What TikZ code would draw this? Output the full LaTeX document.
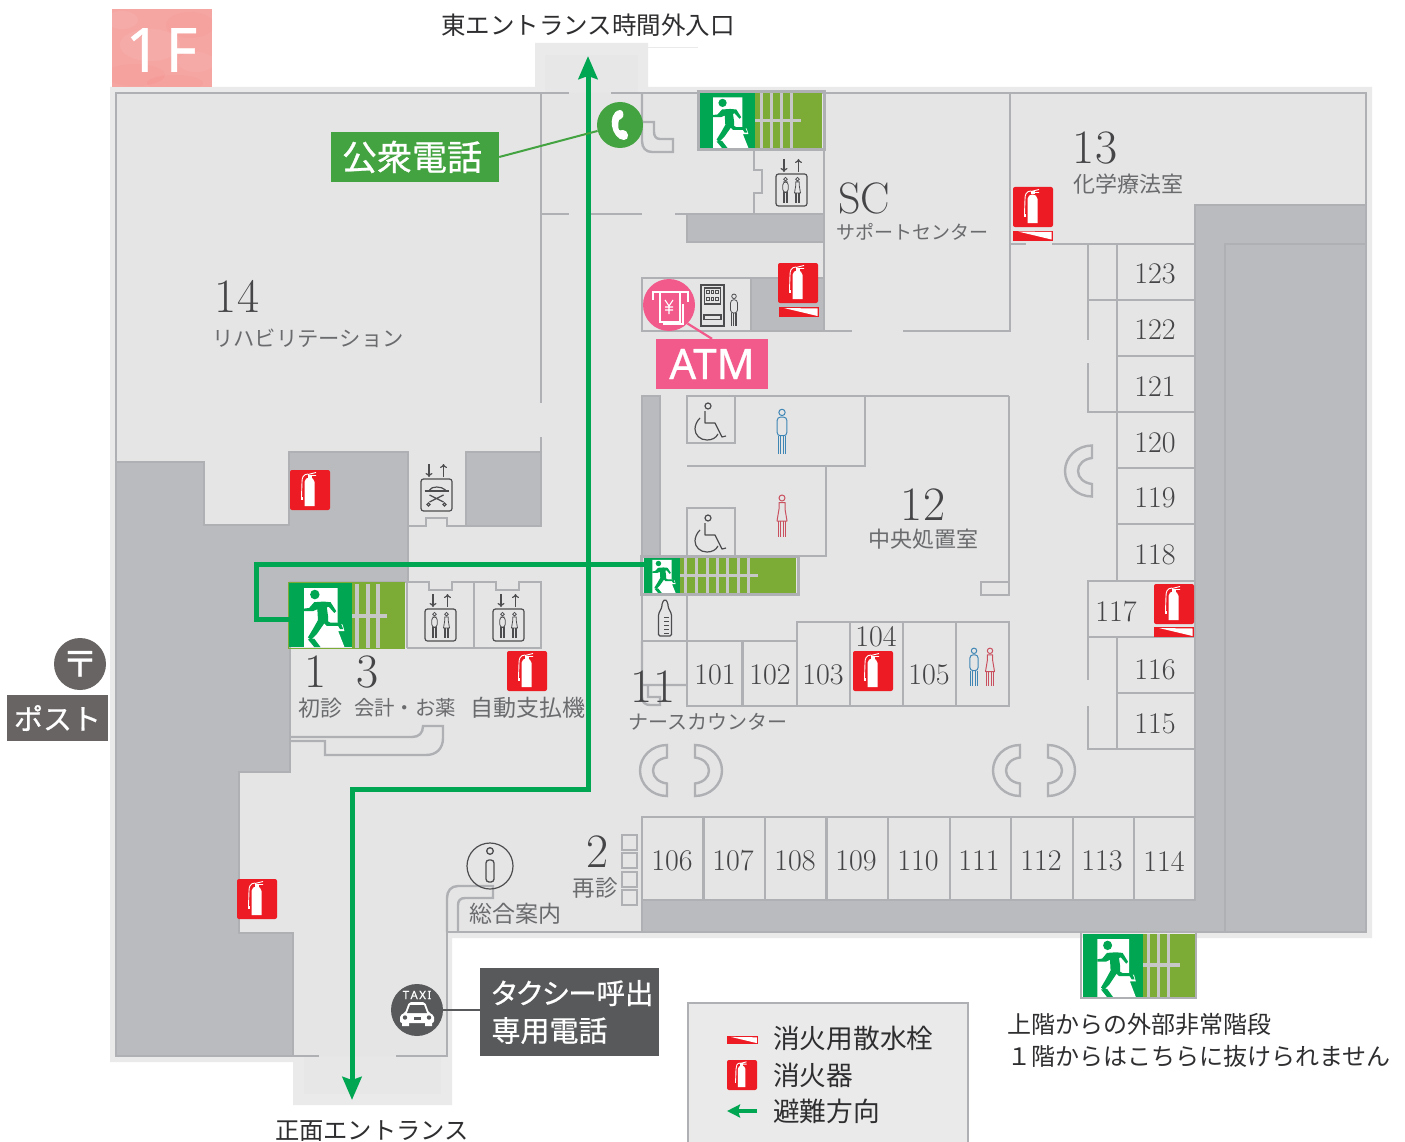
\documentclass[tikz,border=0pt]{standalone}
\usepackage{fontspec}
\newfontfamily\cjk{Noto Sans CJK JP}
\newfontfamily\cjkp[RawFeature=+palt]{Noto Sans CJK JP}
\newfontfamily\cjkm[FakeBold=0.7]{Noto Sans CJK JP}
\newfontfamily\cjkmp[FakeBold=0.7,RawFeature=+palt]{Noto Sans CJK JP}
\newfontfamily\nsans[FakeBold=0.7]{Noto Sans}
\usetikzlibrary{arrows.meta}
\newcommand\fsz[1]{\fontsize{#1}{#1}\selectfont}
\definecolor{halo}{HTML}{EAEAEA}
\definecolor{haloin}{HTML}{E7E7E8}
\definecolor{floorc}{HTML}{E5E5E6}
\definecolor{wallc}{HTML}{AEB0B3}
\definecolor{darkc}{HTML}{BABBBE}
\definecolor{stripec}{HTML}{C6C7C6}
\definecolor{firered}{HTML}{ED1C24}
\definecolor{exitgreen}{HTML}{00A651}
\definecolor{stairg}{HTML}{7CAC36}
\definecolor{phoneg}{HTML}{43A340}
\definecolor{pinkc}{HTML}{F25A8C}
\definecolor{floorpink}{HTML}{F5A6A3}
\definecolor{greybox}{HTML}{58595B}
\definecolor{postc}{HTML}{686463}
\definecolor{iconc}{HTML}{4D4D4F}
\definecolor{toiletb}{HTML}{3F86B5}
\definecolor{toiletr}{HTML}{C9505E}
\definecolor{numc}{HTML}{454547}
\definecolor{namec}{HTML}{6A6B6D}
\definecolor{labc}{HTML}{2E2E30}
\tikzset{
  wall/.style={draw=wallc,line width=2.4pt,line join=miter},
  darkarea/.style={fill=darkc,draw=wallc,line width=2.4pt},
  route/.style={draw=exitgreen,line width=5pt},
  roomno/.style={text=numc,inner sep=0pt,font=\fsz{30},yshift=-1pt},
  bignum/.style={text=numc,inner sep=0pt,font=\fsz{48}},
  roomname/.style={text=namec,inner sep=0pt},
  darktext/.style={text=labc,inner sep=0pt},
  whitetext/.style={text=white,inner sep=0pt},
  iconline/.style={draw=iconc,line width=1.2pt},
  blueline/.style={draw=toiletb,line width=1pt},
  redline/.style={draw=toiletr,line width=1pt},
  grayline/.style={draw=iconc,line width=.8pt},
  pics/fireext/.style={code={
    \fill[firered,rounded corners=2pt] (-20,-20) rectangle (20,20);
    \fill[white] (-5.5,-8) .. controls (-5.5,-11) and (-3,-12.5) .. (-0.5,-12.5) .. controls (2,-12.5) and (4.5,-11) .. (4.5,-8) -- (4.5,16) -- (-5.5,16) -- cycle;
    \fill[white] (-2.5,-15.5) rectangle (1.5,-12.5);
    \draw[white,line width=.9pt] (-2,-15.5) -- (6,-17.5) (1,-14.5) -- (6,-14.5);
    \draw[white,line width=.9pt] (-2,-16) .. controls (-7,-16) and (-8,-12) .. (-8,-8) -- (-8.5,7);
    \fill[white] (-9.5,7) rectangle (-7.5,10);
  }},
  pics/hydrant/.style={code={
    \fill[firered] (-20,-5) rectangle (20,5);
    \fill[white] (-15,-4) -- (18.5,-3.5) -- (18.5,4) -- cycle;
  }},
  pics/manicon/.style={code={
    \draw[#1] (0,-18) circle[radius=3];
    \draw[#1,rounded corners=3pt] (-4.5,4) -- (-4.5,-13.5) -- (4.5,-13.5) -- (4.5,4) -- cycle;
    \draw[#1] (-3.7,4) -- (-3.7,21) (-1.2,4) -- (-1.2,21) (1.2,4) -- (1.2,21) (3.7,4) -- (3.7,21);
  }},
  pics/womanicon/.style={code={
    \draw[#1] (0,-18) circle[radius=3];
    \draw[#1,line join=round] (-3,-13.5) -- (3,-13.5) -- (3,-7) -- (5,5) -- (-5,5) -- (-3,-7) -- cycle;
    \draw[#1] (-3.7,5) -- (-3.7,21) (-1.2,5) -- (-1.2,21) (1.2,5) -- (1.2,21) (3.7,5) -- (3.7,21);
  }},
  pics/liftframe/.style={code={
    \draw[iconline,rounded corners=2.5pt] (-15.5,-16) rectangle (15.5,16);
    \draw[iconline,-{To[length=4pt,width=7pt]}] (-7.5,-31) -- (-7.5,-18);
    \draw[iconline,-{To[length=4pt,width=7pt]}] (7,-18) -- (7,-31);
  }},
  pics/lifticon/.style={code={
    \pic {liftframe};
    \pic[scale=.6] at (-6,0) {manicon=grayline};
    \pic[scale=.6] at (6,0) {womanicon=grayline};
  }},
  pics/stretcher/.style={code={
    \pic {liftframe};
    \draw[iconline,line width=1.7pt,rounded corners=1pt] (-12,-4) -- (12,-4);
    \draw[iconline] (-7,-5) .. controls (-5,-9) and (5,-9) .. (9,-5);
    \draw[iconline] (-7,0) -- (7,7) (7,0) -- (-7,7);
    \draw[iconline] (-8,9.5) circle[radius=1.6] (8,9.5) circle[radius=1.6];
  }},
  pics/wheelchair/.style={code={
    \draw[iconline] (21,10) circle[radius=3];
    \draw[iconline,line join=round] (18,15) -- (18,27) -- (28,27) -- (35,41) -- (39,40);
    \draw[iconline] (13,22) .. controls (10,25) and (8,29) .. (8,33) .. controls (8,39) and (13,44) .. (20,44) .. controls (25,44) and (29,42) .. (31,38);
  }},
  pics/cshape/.style={code={
    \draw[wall] (0,-25.5) .. controls (-15,-25.5) and (-27,-14) .. (-27,0) .. controls (-27,14) and (-15,25.5) .. (0,25.5) -- (0,13) .. controls (-8,12) and (-14,7) .. (-14,0) .. controls (-14,-7) and (-8,-12) .. (0,-13) -- cycle;
  }},
}
\newcommand\exitsign[4]{%
  \begin{scope}[shift={(#1,#2)},xscale=#3/100,yscale=#4/100]
    \fill[exitgreen] (0,0) rectangle (100,100);
    \fill[white] (24,8) -- (77,8) -- (77,62) -- (85,65) -- (88,75) -- (78,75) -- (88,100) -- (24,100) -- cycle;
    \fill[exitgreen] (41,18) circle[radius=7.5];
    \fill[exitgreen,line join=round] (24,40) -- (32,39) -- (40,30) -- (55,29) -- (66,30) -- (75,44) -- (72,47) -- (63,37) -- (60,38) -- (62,52) -- (62,60) -- (66,62) -- (82,62) -- (86,72) -- (81,72) -- (78,67) -- (60,67) -- (56,63) -- (44,80) -- (35,89) -- (30,85) -- (38,72) -- (46,58) -- (45,41) -- (38,44) -- (24,44) -- cycle;
    \fill[exitgreen] (30,88) -- (40,87) -- (50,100) -- (40,100) -- cycle;
  \end{scope}%
}
\begin{document}
\begin{tikzpicture}[x=1pt,y=-1pt]
\useasboundingbox (0,0) rectangle (1405,1142);
\fill[white] (0,0) rectangle (1405,1142);
% halo and floor
\fill[halo] (110,87) -- (535,87) -- (535,43) -- (648,43) -- (648,87) -- (1372,87) -- (1372,938) -- (452,938) -- (452,1105) -- (293,1105) -- (293,1062) -- (110,1062) -- cycle;
\fill[haloin] (545,55) rectangle (638,93);
\fill[haloin] (304,1056) rectangle (441,1094);
\draw[draw=halo,line width=1pt] (648,47.5) -- (698,47.5);
\fill[floorc] (116,93) -- (1366,93) -- (1366,932) -- (447,932) -- (447,1056) -- (116,1056) -- cycle;
% dark areas
\path[darkarea] (116,462) -- (204,462) -- (204,525) -- (289,525) -- (289,452) -- (408,452) -- (408,582) -- (290,582) -- (290,772) -- (239,772) -- (239,933) -- (293,933) -- (293,1056) -- (116,1056) -- cycle;
\path[darkarea] (466,452) rectangle (541,526);
\path[darkarea] (642,900) -- (1195,900) -- (1195,205) -- (1366,205) -- (1366,932) -- (642,932) -- cycle;
\draw[wall] (1225,932) -- (1225,244) -- (1366,244);
\path[darkarea] (687,214) rectangle (824,242);
\path[darkarea] (751,278) rectangle (824,331);
\path[darkarea] (642,396) rectangle (660,556);
% outer walls
\draw[wall] (541,93) -- (116,93) -- (116,1056) (293,1056) -- (319,1056) (396,1056) -- (447,1056) -- (447,932) -- (642,932);
\draw[wall] (541,93) -- (569,93) (611,93) -- (1366,93) -- (1366,932);
\draw[wall] (541,93) -- (541,403) (541,437) -- (541,452) -- (466,452);
\draw[wall] (541,214) -- (569,214) (589,214) -- (642,214) (675,214) -- (824,214);
% phone niche
\draw[wall] (642,93) -- (642,141) .. controls (642,148) and (646,152) .. (652,152) -- (673,152) -- (673,139) -- (660,139) .. controls (656,139) and (654,136) .. (654,132) -- (654,122) -- (643,122);
% lift room upper
\draw[wall] (754,150) -- (754,170) -- (762,170) -- (762,193) -- (754,193) -- (754,214);
\draw[wall] (824,93) -- (824,331);
% ATM room
\draw[wall] (751,278) -- (642,278) -- (642,331) -- (852,331) (903,331) -- (1010,331) -- (1010,93);
\draw[wall] (1010,244) -- (1026,244) (1052,244) -- (1195,244);
% right corridors and rooms
\draw[wall] (1088,244) -- (1088,340) (1088,363) -- (1088,412) -- (1117,412) (1088,300) -- (1117,300);
\draw[wall] (1117,244) -- (1117,581);
\foreach \yy in {300,356,412,468,524} \draw[wall] (1117,\yy) -- (1195,\yy);
\draw[wall] (1195,581) -- (1088,581) -- (1088,637) -- (1195,637);
\draw[wall] (1088,637) -- (1088,680) (1088,706) -- (1088,749) -- (1195,749) (1117,637) -- (1117,749) (1117,693) -- (1195,693);
% central block
\draw[wall] (1009,396) -- (687,396) -- (687,443) -- (735,443) -- (735,396);
\draw[wall] (865,396) -- (865,466) -- (687,466);
\draw[wall] (826,466) -- (826,556) -- (798,556);
\draw[wall] (687,556) -- (687,508) -- (735,508) -- (735,556);
\draw[wall] (1009,396) -- (1009,595) -- (981,595) -- (981,582) -- (1009,582);
\draw[wall] (642,594) -- (642,641) (687,594) -- (687,706) -- (1009,706) -- (1009,622) -- (797,622) -- (797,706);
\draw[wall] (642,641) -- (797,641) (742.5,641) -- (742.5,706) (850,622) -- (850,706) (903,622) -- (903,706) (956,622) -- (956,706);
\draw[wall] (642,641) -- (642,697) .. controls (642,702) and (645,705) .. (650,705) -- (660,705) -- (660,697) -- (648,697) -- (648,686) (642,685) -- (687,685);
% lower rooms
\draw[wall] (642,932) -- (642,817) -- (1195,817);
\foreach \xx in {703.5,765,826.5,888,950,1011,1073,1134} \draw[wall] (\xx,817) -- (\xx,900);
\draw[wall] (642,900) -- (1195,900);
% reception
\draw[wall] (447,932) -- (447,898) .. controls (447,891) and (451,886) .. (458,886) -- (493,886) -- (493,898) -- (465,898) .. controls (460,898) and (458,901) .. (458,905) -- (458,932);
\foreach \yy in {835,853,872,890} \draw[wall] (622,\yy) rectangle (637,\yy+15);
% lifts left
\draw[wall] (408,452) -- (408,526) -- (426,526) -- (426,518) -- (447,518) -- (447,526) -- (466,526);
\draw[wall] (407,648) -- (407,582) -- (429,582) -- (429,590) -- (452,590) -- (452,582) -- (496,582) -- (496,590) -- (519,590) -- (519,582) -- (541,582) -- (541,648) -- (407,648) (474,582) -- (474,648);
% counter
\draw[wall] (290,650) -- (290,772);
\draw[wall] (290,737) -- (412,737) .. controls (419,737) and (423,733) .. (423,726) -- (443,726) -- (443,738) .. controls (443,749) and (436,755) .. (426,755) -- (325,755) -- (325,741) -- (290,741);
% curved benches
\pic at (667,770.5) {cshape};
\pic[xscale=-1] at (695,770.5) {cshape};
\pic at (1020,770.5) {cshape};
\pic[xscale=-1] at (1048,770.5) {cshape};
\pic at (1092,471) {cshape};
% exit blocks
\fill[stairg] (755,93) rectangle (822,148);
\draw[draw=stripec,line width=3pt] (761,93) -- (761,148) (771,93) -- (771,148) (781,93) -- (781,148) (791.5,93) -- (791.5,148) (755,121) -- (801,121);
\exitsign{700}{93}{55}{55}
\draw[wall,line width=3pt] (698,92) rectangle (824,150);
\fill[stairg] (352,582) rectangle (404,648);
\draw[draw=stripec,line width=3.3pt] (357,584) -- (357,648) (368,584) -- (368,648) (378,584) -- (378,648) (352,616) -- (387,616);
\exitsign{289}{583}{63}{64}
\draw[draw=stairg,line width=1.5pt] (288.5,582.5) rectangle (404,648.5);
\fill[stairg] (680,557) rectangle (796,593);
\draw[draw=stripec,line width=3pt] (685,557) -- (685,593) (696,557) -- (696,593) (707,557) -- (707,593) (717,557) -- (717,593) (727.5,557) -- (727.5,593) (738,557) -- (738,593) (748,557) -- (748,593) (680,575) -- (758,575);
\exitsign{643.5}{557}{36.5}{36}
\draw[wall,line width=3pt] (641,556) rectangle (798,594);
\fill[stairg] (1143,934) rectangle (1195,997);
\draw[draw=stripec,line width=3.3pt] (1148.5,934) -- (1148.5,997) (1158.5,934) -- (1158.5,997) (1168.5,934) -- (1168.5,997) (1143,965) -- (1180,965);
\exitsign{1083}{934}{60}{63}
\draw[wall,line width=2.5pt] (1081,933) -- (1081,998) -- (1196,998) -- (1196,933);
% fire equipment
\pic at (310,490) {fireext};
\pic at (798,283) {fireext};
\pic at (799,312) {hydrant};
\pic at (1033,207) {fireext};
\pic at (1033,235.5) {hydrant};
\pic at (1174,604) {fireext};
\pic at (1174,632) {hydrant};
\pic at (527,671) {fireext};
\pic at (873,671) {fireext};
\pic at (257,899) {fireext};
% service icons
\pic at (791.5,190) {lifticon};
\pic at (440.5,625) {lifticon};
\pic at (508.5,625) {lifticon};
\pic at (436.5,495) {stretcher};
\pic at (687,396) {wheelchair};
\pic at (687,508) {wheelchair};
\pic[scale=1.06] at (782,431.5) {manicon=blueline};
\pic[scale=1] at (782,516) {womanicon=redline};
\pic[scale=.9] at (974,667) {manicon=blueline};
\pic[scale=.9] at (990,667) {womanicon=redline};
% vending machine
\draw[iconline,line width=1.5pt] (701,285) rectangle (724,326);
\draw[iconline] (704.5,288) rectangle (720.5,304);
\foreach \xa in {708,712.5,717} \foreach \ya in {292,299} \draw[iconline,line width=.9pt] (\xa-1.3,\ya-1.5) rectangle (\xa+1.3,\ya+1.5);
\draw[iconline] (704,315) rectangle (721,319.5);
\pic[scale=.76] at (734,310) {manicon=grayline};
% bottle
\draw[iconline,rounded corners=1.5pt] (658.5,636) -- (658.5,614) -- (662,607) -- (662,603) -- (665,599) -- (668,603) -- (668,607) -- (671.5,614) -- (671.5,636) -- cycle;
\foreach \yb in {617,621,625,629,633} \draw[iconline,line width=.8pt] (664,\yb) -- (669,\yb);
% info
\node[draw=iconc,line width=1.2pt,circle,minimum size=46pt,inner sep=0pt] (info) at (490,866) {};
\draw[iconline,line width=1.3pt] (490,851) circle[radius=3.3];
\draw[iconline,line width=1.3pt,rounded corners=3pt] (486,860) rectangle (494,882);
% route
\coordinate (rE) at (588,56);
\coordinate (rT) at (588,789);
\coordinate (rB) at (352,789);
\coordinate (rS) at (352,1100);
\coordinate (rM) at (645,564);
\coordinate (rX) at (256,564);
\coordinate (rY) at (256,619);
\coordinate (rL) at (289,619);
\draw[route,{Stealth[length=23pt,width=19pt,inset=3pt]}-{Stealth[length=23pt,width=19pt,inset=3pt]}] (rE) -- (rT) -- (rB) -- (rS);
\draw[route] (rM) -- (rX) -- (rY) -- (rL);
% 1F
\fill[floorpink] (112,9) rectangle (212,87);
\begin{scope}
\clip (112,9) rectangle (212,87);
\fill[red!55!floorpink,fill opacity=.05] (135,75) ellipse[x radius=30,y radius=11];
\fill[red!55!floorpink,fill opacity=.05] (190,25) ellipse[x radius=24,y radius=13];
\fill[white,fill opacity=.07] (150,45) ellipse[x radius=30,y radius=16];
\fill[white,fill opacity=.06] (122,20) ellipse[x radius=16,y radius=9];
\fill[white,fill opacity=.05] (196,62) ellipse[x radius=18,y radius=10];
\fill[red!55!floorpink,fill opacity=.05] (175,83) ellipse[x radius=28,y radius=8];
\end{scope}
\node[inner sep=0pt,text=white,font=\nsans\fsz{61}] (floorlabel) at (161.5,50) {1\hspace{5pt}F};
% phone
\node[fill=phoneg,text=white,minimum width=168pt,minimum height=50pt,inner sep=0pt,font=\cjkm\fsz{35}] (phonelabel) at (415,157) {公衆電話\hspace*{6pt}};
\node[fill=phoneg,circle,minimum size=46pt,inner sep=0pt] (phone) at (620,125) {};
\draw[draw=phoneg,line width=2pt] (phonelabel.east) -- (phone);
\begin{scope}[shift={(620,125)}]
\fill[white] (0,-15) .. controls (-8,-14) and (-9,-4) .. (-8,1) .. controls (-7,8) and (-2,15) .. (4,15) .. controls (7,15) and (8,13) .. (8,10) .. controls (8,7) and (5,5) .. (3,5) .. controls (1,5) and (0,6) .. (-1,5) .. controls (-2,3) and (-2,-2) .. (-1,-5) .. controls (0,-6) and (2,-6) .. (3,-8) .. controls (4,-11) and (3,-15) .. (0,-15) -- cycle;
\end{scope}
% ATM
\node[fill=pinkc,text=white,minimum width=112pt,minimum height=50pt,inner sep=0pt,font=\nsans\fsz{42}] (atmlabel) at (712,364) {ATM};
\node[fill=pinkc,circle,minimum size=52pt,inner sep=0pt] (atm) at (669,305) {};
\draw[draw=pinkc,line width=2.2pt] (atm.south east) -- (atmlabel.north);
\begin{scope}[shift={(669,305)},line width=1.1pt,white]
\draw[white] (-16,-5) -- (-16,-13) -- (19,-13) -- (19,-3);
\draw[white] (-9,-13) -- (-9,17) -- (11,17) -- (11,-13);
\draw[white] (-6,19) -- (14,19) -- (14,-1);
\draw[white] (-4,-5) -- (0,1) -- (4,-5) (0,1) -- (0,9) (-4,2) -- (4,2) (-4,5) -- (4,5);
\end{scope}
% post
\node[fill=postc,circle,minimum size=52pt,inner sep=0pt,text=white,font=\cjkm\fsz{36}] (post) at (80,664) {〒};
\node[fill=postc,text=white,minimum width=101pt,minimum height=46pt,inner sep=0pt,font=\cjkm\fsz{29}] (postlabel) at (57.5,718) {ポスト};
% taxi
\node[fill=greybox,circle,minimum size=52pt,inner sep=0pt] (taxi) at (417,1010) {};
\node[fill=greybox,text=white,minimum width=179pt,minimum height=88pt,inner sep=0pt,text width=156pt,align=left] (taxilabel) at (569.5,1012) {\cjkmp\fsz{28.5}タクシー呼出\\[10pt]\cjkm\fsz{29}専用電話};
\draw[draw=greybox,line width=2pt] (taxi) -- (taxilabel.west |- taxi);
\node[whitetext,font=\nsans\fsz{11.5}] (taxitext) at (417,995) {T\hspace{1.4pt}A\hspace{1.4pt}X\hspace{1.4pt}I};
\begin{scope}[shift={(417,1015)}]
\fill[white,rounded corners=2pt] (-8,-13) -- (8,-13) -- (12,-2) -- (17,0) -- (17,8) -- (-17,8) -- (-17,0) -- (-12,-2) -- cycle;
\fill[greybox] (-7,-10) -- (7,-10) -- (10,-2) -- (-10,-2) -- cycle;
\fill[greybox] (-12,2.5) circle[radius=2.2] (12,2.5) circle[radius=2.2];
\fill[greybox] (-3.5,2) rectangle (3.5,4.5);
\fill[white] (-15,7) rectangle (-8,11) (8,7) rectangle (15,11);
\end{scope}
% texts
\node[darktext,font=\cjk\fsz{24.5}] (east) at (588,25) {東エントランス時間外入口};
\node[darktext,font=\cjk\fsz{24.3}] (front) at (372,1131) {正面エントランス};
\node[darktext,anchor=west,font=\cjk\fsz{24}] (note1) at (1007,1024) {上階からの外部非常階段};
\node[darktext,anchor=west,font=\cjk\fsz{24}] (note2) at (1007,1056) {１階からはこちらに抜けられません};
\node[bignum] (n14) at (237,296) {14};
\node[roomname,font=\cjk\fsz{21.3}] (t14) at (308,338) {リハビリテーション};
\node[bignum,font=\fsz{44}] (nsc) at (864,198) {SC};
\node[roomname,font=\cjk\fsz{19}] (tsc) at (912,232) {サポートセンター};
\node[bignum] (n13) at (1095,148) {13};
\node[roomname,font=\cjk\fsz{22}] (t13) at (1128,184) {化学療法室};
\node[bignum] (n12) at (923,505) {12};
\node[roomname,font=\cjk\fsz{22}] (t12) at (923,539) {中央処置室};
\node[bignum] (n1) at (316,672) {1};
\node[bignum] (n3) at (368,672) {3};
\node[roomname,font=\cjk\fsz{22}] (t1) at (320,708) {初診};
\node[roomname,font=\cjk\fsz{20.4}] (t3) at (405,708) {会計・お薬};
\node[roomname,font=\cjk\fsz{23}] (tpay) at (528,708) {自動支払機};
\node[bignum] (n11) at (653,687) {11};
\node[roomname,font=\cjk\fsz{20}] (t11) at (708,722) {ナースカウンター};
\node[bignum] (n2) at (598,852) {2};
\node[roomname,font=\cjk\fsz{22.5}] (t2) at (595,888) {再診};
\node[roomname,font=\cjk\fsz{23}] (tinfo) at (515,914) {総合案内};
\foreach \n/\x/\y in {101/715/674,102/770/674,103/823/674,104/876/636,105/929/674,
  106/672/860,107/733/860,108/795/860,109/856/860,110/918/860,111/979/860,112/1041/860,113/1102/860,114/1164/860,
  115/1155/723,116/1155/669,117/1116/611,118/1155/554,119/1155/497,120/1155/442,121/1155/386,122/1155/329,123/1155/273}
  \node[roomno] (room\n) at (\x,\y) {\n};
% legend
\draw[fill=halo,draw=wallc,line width=2.4pt] (688,1145) -- (688,1003) -- (968,1003) -- (968,1145);
\pic[scale=.77] at (742.5,1040) {hydrant};
\pic[scale=.75] at (742,1075) {fireext};
\coordinate (legA) at (757,1111);
\coordinate (legB) at (727,1111);
\draw[draw=exitgreen,line width=3.5pt,-{Stealth[length=13pt,width=13pt,inset=2pt]}] (legA) -- (legB);
\node[darktext,anchor=west,font=\cjk\fsz{26.7}] (leg1) at (773,1038) {消火用散水栓};
\node[darktext,anchor=west,font=\cjk\fsz{26.7}] (leg2) at (773,1075) {消火器};
\node[darktext,anchor=west,font=\cjk\fsz{26.7}] (leg3) at (773,1111) {避難方向};
\end{tikzpicture}
\end{document}
